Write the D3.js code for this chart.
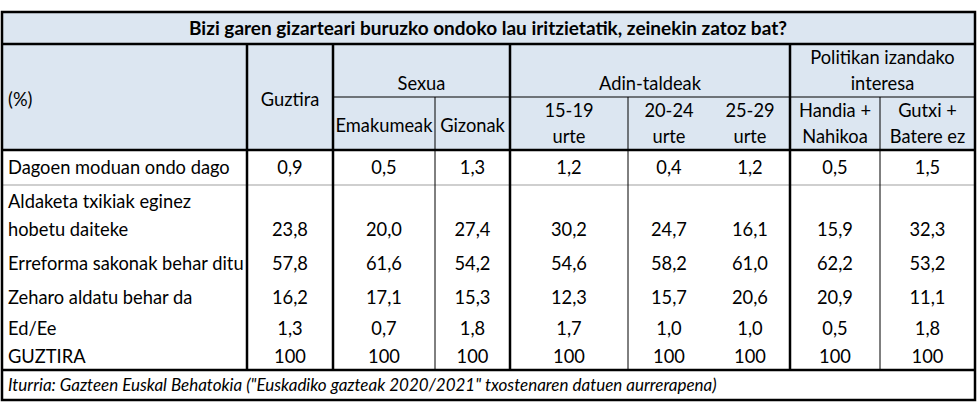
<!DOCTYPE html>
<html><head><meta charset="utf-8">
<script src="https://cdn.jsdelivr.net/npm/d3@7"></script>
<style>body{margin:0;background:#fff}text{font-family:Lato,"Open Sans",sans-serif;fill:#000}</style>
</head><body><svg id="c" width="977" height="410"></svg>
<script>
(function() {
    'use strict';

    // DATA
    var title = 'Bizi garen gizarteari buruzko ondoko lau iritzietatik, zeinekin zatoz bat?';
    var groups = [
        { name: ['Sexua'], span: [1, 3] },
        { name: ['Adin-taldeak'], span: [3, 6] },
        { name: ['Politikan izandako', 'interesa'], span: [6, 8] }
    ];
    var columns = [['Guztira'], ['Emakumeak'], ['Gizonak'], ['15-19', 'urte'], ['20-24', 'urte'],
        ['25-29', 'urte'], ['Handia +', 'Nahikoa'], ['Gutxi +', 'Batere ez']];
    var rowLabels = [['Dagoen moduan ondo dago'], ['Aldaketa txikiak eginez', 'hobetu daiteke'],
        ['Erreforma sakonak behar ditu'], ['Zeharo aldatu behar da'], ['Ed/Ee'], ['GUZTIRA']];
    var values = [
        ['0,9', '0,5', '1,3', '1,2', '0,4', '1,2', '0,5', '1,5'],
        ['23,8', '20,0', '27,4', '30,2', '24,7', '16,1', '15,9', '32,3'],
        ['57,8', '61,6', '54,2', '54,6', '58,2', '61,0', '62,2', '53,2'],
        ['16,2', '17,1', '15,3', '12,3', '15,7', '20,6', '20,9', '11,1'],
        ['1,3', '0,7', '1,8', '1,7', '1,0', '1,0', '0,5', '1,8'],
        ['100', '100', '100', '100', '100', '100', '100', '100']
    ];
    var source = 'Iturria: Gazteen Euskal Behatokia ("Euskadiko gazteak 2020/2021" txostenaren datuen aurrerapena)';

    // LAYOUT
    var colEdges = [2, 247, 333, 435, 510, 628, 710, 790, 880, 975];
    var rowEdges = [150, 185, 247, 281, 315, 343, 370];
    var top = 12, titleBottom = 44, groupBottom = 97, headBottom = 150, bottom = 400;
    var blue = '#dce6f1', fs = 18.3;

    var svg = d3.select('#c');
    var x = function(i) { return colEdges[i]; };
    var y = d3.scaleOrdinal().domain(d3.range(rowEdges.length)).range(rowEdges);

    svg.append('rect').attr('x', 2).attr('y', top).attr('width', 973).attr('height', headBottom - top).attr('fill', blue);

    function lines(g, arr, cx, cy, anchor, lh) {
        var t = g.append('text').attr('text-anchor', anchor).attr('font-size', fs);
        arr.forEach(function(s, i) {
            t.append('tspan').attr('x', cx).attr('y', cy + (i - (arr.length - 1) / 2) * lh).attr('dy', '0.35em').text(s);
        });
        return t;
    }

    svg.append('text').attr('x', 488).attr('y', (top + titleBottom) / 2).attr('dy', '0.35em')
        .attr('text-anchor', 'middle').attr('font-size', 19).attr('font-weight', 'bold').text(title);

    lines(svg, ['(%)'], 8, 100, 'start', 26);
    lines(svg, columns[0], (x(1) + x(2)) / 2, 100, 'middle', 26);

    groups.forEach(function(g) {
        var cx = (x(g.span[0] + 1) + x(g.span[1] + 1)) / 2;
        lines(svg, g.name, cx, g.name.length > 1 ? 71 : 84, 'middle', 26);
        svg.append('line').attr('x1', x(g.span[0] + 1)).attr('x2', x(g.span[1] + 1))
            .attr('y1', groupBottom).attr('y2', groupBottom).attr('stroke', '#000');
    });
    columns.slice(1).forEach(function(c, i) {
        var cx = (x(i + 2) + x(i + 3)) / 2;
        lines(svg, c, cx, c.length > 1 ? 124 : 126, 'middle', 26);
    });

    // data rows
    rowLabels.forEach(function(lab, r) {
        var y0 = y(r), y1 = rowEdges[r + 1];
        var cy = lab.length > 1 ? y1 - 17 : (y0 + y1) / 2;
        lines(svg, lab, 8, lab.length > 1 ? (y0 + y1) / 2 : cy, 'start', 28);
        values[r].forEach(function(v, c) {
            svg.append('text').attr('x', (x(c + 1) + x(c + 2)) / 2).attr('y', cy).attr('dy', '0.35em')
                .attr('text-anchor', 'middle').attr('font-size', fs).text(v);
        });
    });
    svg.append('line').attr('x1', 2).attr('x2', 975).attr('y1', y(1)).attr('y2', y(1))
        .attr('stroke', '#bfbfbf').attr('stroke-width', 1.5);

    svg.append('text').attr('x', 8).attr('y', 385).attr('dy', '0.35em').attr('font-size', 17)
        .attr('font-style', 'italic').text(source);

    // grid
    [3, 5, 8].forEach(function(i) {
        svg.append('line').attr('x1', x(i)).attr('x2', x(i)).attr('y1', groupBottom).attr('y2', rowEdges[6])
            .attr('stroke', '#000');
    });
    [1, 2, 4, 7].forEach(function(i) {
        svg.append('line').attr('x1', x(i)).attr('x2', x(i)).attr('y1', titleBottom).attr('y2', rowEdges[6])
            .attr('stroke', '#000').attr('stroke-width', 2.5);
    });
    [titleBottom, headBottom, rowEdges[6]].forEach(function(v) {
        svg.append('line').attr('x1', 2).attr('x2', 975).attr('y1', v).attr('y2', v)
            .attr('stroke', '#000').attr('stroke-width', 2.5);
    });
    svg.append('rect').attr('x', 2).attr('y', top).attr('width', 973).attr('height', bottom - top)
        .attr('fill', 'none').attr('stroke', '#000').attr('stroke-width', 2.5);
}());
</script></body></html>
